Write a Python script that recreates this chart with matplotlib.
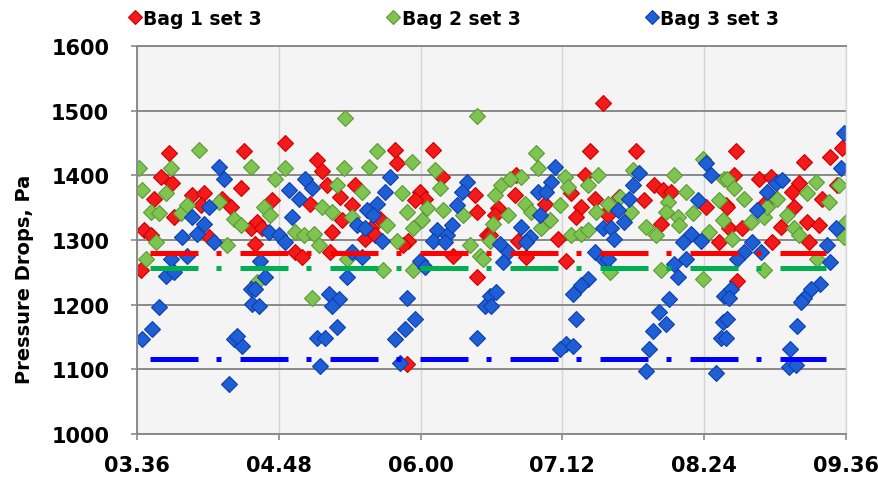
import matplotlib
matplotlib.use('Agg')
from matplotlib import pyplot as plt
from matplotlib.ticker import FixedLocator, FuncFormatter
import numpy as np

plt.rcParams['font.family'] = ['Liberation Sans Narrow', 'DejaVu Sans']
plt.rcParams['font.weight'] = 'bold'

# minutes after 03:36 and pressure drop in Pa for each bag
bag1_t = [16.2, 12.0, 17.6, 8.6, 3.5, 7.0, 1.9, 28.0, 34.0, 43.3, 47.6, 54.3, 52.6, 57.7, 18.8, 36.5, 32.3,
          75.3, 91.4, 94.0, 96.5, 68.6, 88.0, 103.2, 110.9, 109.2, 61.0, 63.5, 80.4, 83.8, 99.0, 104.0, 116.0,
          119.0, 98.2, 60.0,
          131.0, 150.4, 131.8, 154.7, 143.7, 146.2, 141.1, 171.6, 172.4, 123.4, 120.8, 137.8, 135.2, 160.6,
          177.5, 172.4, 136.9,
          236.6, 229.8, 227.3, 192.6, 191.7, 183.3, 181.6, 207.0, 220.5, 225.6, 223.0, 232.3, 238.3, 213.7,
          193.4, 197.7, 218.0, 179.0,
          253.3, 262.6, 266.9, 271.1, 257.6, 244.9, 239.0, 266.0, 288.9, 295.6, 299.0,
          303.9, 338.6, 352.1, 358.0, 303.1, 315.8, 321.7, 336.0, 347.9, 332.7, 299.7, 319.2, 333.5, 300.5,
          307.3, 326.8, 340.3, 346.2, 322.5, 341.1, 304.8, 355.5]
bag1_p = [1434, 1398, 1388, 1364, 1315, 1307, 1253, 1369, 1372, 1364, 1351, 1437, 1380, 1318, 1336, 1305, 1354,
          1450, 1424, 1406, 1385, 1362, 1356, 1367, 1385, 1354, 1328, 1318, 1281, 1274, 1312, 1331, 1302,
          1318, 1281, 1294,
          1439, 1439, 1419, 1398, 1375, 1364, 1362, 1369, 1344, 1333, 1307, 1299, 1292, 1276,
          1307, 1243, 1108,
          1512, 1437, 1401, 1401, 1369, 1349, 1338, 1356, 1372, 1351, 1336, 1364, 1341, 1302,
          1299, 1274, 1268, 1307,
          1437, 1385, 1377, 1375, 1362, 1367, 1338, 1325, 1351, 1297, 1354,
          1437, 1421, 1429, 1442, 1401, 1395, 1398, 1388, 1364, 1375, 1351, 1359, 1351, 1318,
          1318, 1320, 1328, 1323, 1297, 1297, 1237, 1385]

bag2_t = [31.5, 1.0, 17.0, 2.7, 14.6, 7.0, 11.2, 22.2, 25.5, 41.6, 49.2, 52.6, 45.9, 9.5, 4.4, 57.7,
          105.8, 75.3, 105.0, 117.6, 70.2, 101.5, 114.2, 94.0, 99.0, 64.3, 67.7, 109.2, 80.4, 84.6, 89.7,
          92.2, 106.6, 88.9, 61.0,
          172.4, 121.7, 139.5, 151.3, 153.8, 134.4, 136.9, 147.1, 155.5, 126.8, 140.3, 144.5, 131.8, 169.0,
          174.1, 175.8, 125.1, 140.3, 165.7, 179.2,
          202.7, 203.6, 195.1, 185.0, 189.2, 181.6, 217.1, 218.8, 234.0, 229.0, 196.8, 214.6, 200.2, 209.5,
          205.3, 188.4, 180.7, 220.5, 225.6, 229.0, 233.2, 239.0,
          251.6, 272.8, 287.2, 298.2, 245.0, 269.4, 278.7, 268.6, 250.8, 274.5, 282.1, 295.6, 297.3, 258.4,
          263.5, 275.3, 290.6, 266.0, 287.2, 240.0,
          299.7, 303.1, 308.2, 340.3, 344.5, 351.3, 356.4, 359.8, 358.9, 325.1, 330.1, 311.5, 318.3, 320.0,
          333.5, 336.1, 302.2, 318.3, 345.4]
bag2_p = [1439, 1411, 1411, 1377, 1372, 1344, 1341, 1341, 1354, 1359, 1333, 1323, 1292, 1297, 1271, 1413,
          1489, 1411, 1411, 1413, 1395, 1385, 1375, 1351, 1344, 1351, 1338, 1336, 1312, 1307, 1310,
          1292, 1271, 1211, 1235,
          1491, 1437, 1421, 1408, 1380, 1372, 1344, 1349, 1346, 1323, 1318, 1331, 1299, 1292,
          1276, 1271, 1253, 1253, 1338, 1299,
          1434, 1411, 1398, 1385, 1395, 1369, 1398, 1382, 1401, 1385, 1356, 1354, 1344, 1331,
          1318, 1338, 1325, 1307, 1310, 1315, 1344, 1356,
          1408, 1401, 1426, 1395, 1367, 1359, 1375, 1344, 1344, 1336, 1341, 1362, 1331, 1320,
          1307, 1323, 1312, 1253, 1240, 1250,
          1395, 1380, 1364, 1372, 1390, 1359, 1385, 1328, 1305, 1364, 1338, 1328, 1336, 1351,
          1318, 1307, 1302, 1253, 1271]

bag3_t = [41.6, 44.2, 36.5, 28.0, 34.0, 23.0, 30.6, 39.0, 17.0, 14.6, 18.8, 25.5, 11.2, 7.8, 2.7, 49.2,
          53.5, 51.0, 46.7, 57.7, 58.5,
          85.5, 88.9, 77.0, 82.1, 116.8, 78.7, 111.7, 116.0, 66.9, 72.0, 75.3, 109.2, 114.2, 62.6, 65.2,
          106.6, 60.1, 61.8, 97.3, 102.4, 99.0, 101.5, 91.4, 95.6, 93.1,
          167.4, 164.8, 162.3, 128.5, 125.9, 121.7, 120.0, 124.2, 152.1, 157.2, 159.8, 150.4, 156.4, 143.7,
          146.2, 136.9, 141.1, 136.1, 131.0, 133.5, 172.4, 176.7, 179.2,
          212.0, 210.4, 203.6, 207.8, 204.4, 195.1, 199.4, 197.7, 184.1, 188.4, 185.8, 236.6, 232.3, 236.6,
          229.0, 225.6, 221.3, 223.0, 182.4, 179.9, 218.0, 214.6, 221.3,
          288.9, 291.4, 255.0, 251.6, 249.9, 244.0, 247.4, 240.6, 242.3, 284.6, 281.2, 286.3, 277.0, 278.7,
          272.8, 274.5, 270.3, 265.2, 268.6, 261.8, 260.1, 258.4, 239.0, 298.2, 297.3, 296.5, 293.9,
          358.9, 357.2, 324.2, 320.0, 327.6, 314.9, 354.7, 350.5, 352.1, 312.4, 308.2, 304.8, 316.6, 347.0,
          342.0, 338.6, 336.9, 335.2, 331.8, 331.0, 334.4, 301.4, 300.5, 299.7, 298.8]
bag3_p = [1413, 1395, 1351, 1336, 1325, 1305, 1310, 1297, 1271, 1245, 1250, 1276, 1196, 1162, 1147, 1147,
          1136, 1152, 1077, 1224, 1201,
          1395, 1380, 1377, 1364, 1346, 1336, 1323, 1318, 1312, 1307, 1297, 1281, 1274, 1268, 1243,
          1243, 1224, 1198, 1217, 1209, 1198, 1165, 1149, 1149, 1105,
          1390, 1375, 1354, 1398, 1375, 1356, 1338, 1299, 1315, 1307, 1323, 1299, 1297, 1268,
          1258, 1211, 1178, 1162, 1147, 1110, 1149, 1198, 1214,
          1413, 1390, 1375, 1375, 1338, 1320, 1305, 1297, 1294, 1281, 1266, 1318, 1281, 1271,
          1240, 1230, 1217, 1178, 1219, 1198, 1139, 1131, 1136,
          1419, 1401, 1403, 1385, 1364, 1346, 1328, 1318, 1302, 1362, 1310, 1299, 1297, 1271,
          1263, 1243, 1209, 1188, 1170, 1160, 1131, 1097, 1271, 1214, 1173, 1149, 1095,
          1465, 1411, 1388, 1375, 1393, 1346, 1318, 1292, 1266, 1297, 1281, 1271, 1281, 1232,
          1224, 1211, 1204, 1167, 1131, 1103, 1106, 1224, 1211, 1178, 1149]

# reference levels and the span they cover
ref_levels = [1280, 1257, 1116]
ref_span = [6.6, 350.0]

start = 3 * 60 + 36
tick_minutes = [0, 72, 144, 216, 288, 360]

series = [
    ('Bag 1 set 3', bag1_t, bag1_p, '#f21a1a', '#cc0000'),
    ('Bag 2 set 3', bag2_t, bag2_p, '#7fc451', '#5a9a35'),
    ('Bag 3 set 3', bag3_t, bag3_p, '#1f5fd6', '#0f3faa'),
]
line_colors = ['#ff0000', '#00b050', '#0000ff']

fig = plt.figure(figsize=(8.79, 4.81), dpi=100)
ax = fig.add_axes([0.1559, 0.0956, 0.8066, 0.8067])
ax.set_facecolor('#f4f4f4')

for label, t, p, face, edge in series:
    ax.plot(start + np.array(t), p, linestyle='none', marker='D', markersize=8.6,
            markerfacecolor=face, markeredgecolor=edge, markeredgewidth=0.8, label=label)

for lvl, c in zip(ref_levels, line_colors):
    ax.plot([start + ref_span[0], start + ref_span[1]], [lvl, lvl], color=c, linewidth=3.6,
            dashes=(9.6, 3.6, 1.0, 3.8), dash_capstyle='butt')

ax.set_xlim(start, start + 360)
ax.set_ylim(1000, 1600)
ax.xaxis.set_major_locator(FixedLocator([start + m for m in tick_minutes]))
ax.xaxis.set_major_formatter(FuncFormatter(lambda v, pos: '%02d.%02d' % (int(v) // 60, int(v) % 60)))
ax.yaxis.set_major_locator(FixedLocator(range(1000, 1601, 100)))

ax.yaxis.grid(True, color='#8a8a8a', linewidth=1.4)
ax.xaxis.grid(True, color='#d4d4d4', linewidth=1.0)
ax.set_axisbelow(True)

for side in ['left', 'bottom', 'top']:
    ax.spines[side].set_color('#8a8a8a')
    ax.spines[side].set_linewidth(1.4)
ax.spines['right'].set_color('#d8d8d8')
ax.spines['right'].set_linewidth(1.0)

ax.tick_params(axis='both', colors='#8a8a8a', length=4, width=1.2, labelcolor='black', labelsize=15)
ax.tick_params(axis='x', pad=11)
ax.tick_params(axis='y', pad=16)
for lab in ax.get_xticklabels() + ax.get_yticklabels():
    lab.set_fontweight('bold')

ax.set_ylabel('Pressure Drops, Pa', fontsize=14, fontweight='bold')
ax.yaxis.set_label_coords(-0.146, 0.40)

leg = fig.legend(loc='upper left', bbox_to_anchor=(0.1468, 0.98), ncol=3, frameon=False,
                 handlelength=0.6, handletextpad=0.15, columnspacing=6.7, borderpad=0,
                 borderaxespad=0, markerscale=0.8, prop={'size': 13.5, 'weight': 'bold'})

fig.savefig('out.png', dpi=100)
